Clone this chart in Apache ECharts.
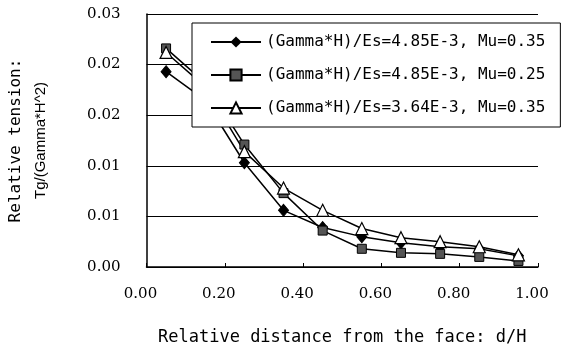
<!DOCTYPE html>
<html>
<head>
<meta charset="utf-8">
<script src="https://cdn.jsdelivr.net/npm/echarts@6/dist/echarts.min.js"></script>
<style>
html,body{margin:0;padding:0;background:#fff;}
#chart{width:568px;height:353px;}
</style>
</head>
<body>
<div id="chart"></div>
<script>
// ---- data ----
const xValues = [0.05, 0.15, 0.25, 0.35, 0.45, 0.55, 0.65, 0.75, 0.85, 0.95];
const seriesNames = [
  '(Gamma*H)/Es=4.85E-3, Mu=0.35',
  '(Gamma*H)/Es=4.85E-3, Mu=0.25',
  '(Gamma*H)/Es=3.64E-3, Mu=0.35'
];
const diamondValues  = [0.0193, 0.0165, 0.0103, 0.0056, 0.0039, 0.0030, 0.0024, 0.0020, 0.0018, 0.0011];
const squareValues   = [0.0216, 0.0182, 0.0121, 0.0073, 0.0036, 0.0018, 0.0014, 0.0013, 0.0010, 0.0006];
const triangleValues = [0.0212, 0.0178, 0.0114, 0.0078, 0.0056, 0.0038, 0.0029, 0.0025, 0.0020, 0.0012];
const xTickLabels = ['0.00', '0.20', '0.40', '0.60', '0.80', '1.00'];
const yTickLabels = ['0.00', '0.01', '0.01', '0.02', '0.02', '0.03'];
const xTitle = 'Relative distance from the face: d/H';
const yTitle1 = 'Relative tension:';
const yTitle2 = 'Tg/(Gamma*H^2)';

const pair = vals => xValues.map((x, i) => [x, vals[i]]);

const chart = echarts.init(document.getElementById('chart'), null, {renderer: 'canvas'});
const mono = '"DejaVu Sans Mono", monospace';
const serif = '"DejaVu Serif", serif';

chart.setOption({
  backgroundColor: '#fff',
  animation: false,
  grid: {left: 143, right: 30, top: 14, bottom: 86, containLabel: false},
  legend: {
    orient: 'vertical',
    left: 192, top: 23,
    padding: [11, 15, 11, 18],
    itemGap: 17,
    itemWidth: 50, itemHeight: 14,
    backgroundColor: '#fff',
    borderColor: '#000', borderWidth: 1,
    textStyle: {fontFamily: mono, fontSize: 16, color: '#000', lineHeight: 16},
    data: seriesNames
  },
  xAxis: {
    type: 'value', min: 0, max: 1, interval: 0.2,
    axisLine: {show: true, lineStyle: {color: '#000', width: 1.5}},
    axisTick: {show: true, inside: true, length: 4, lineStyle: {color: '#000', width: 1}},
    splitLine: {show: false},
    axisLabel: {
      margin: 20, color: '#000', fontFamily: serif, fontSize: 15,
      padding: [0, 12, 0, 0],
      formatter: v => xTickLabels[Math.round(v / 0.2)]
    },
    name: xTitle, nameLocation: 'middle', nameGap: 62,
    nameTextStyle: {fontFamily: mono, fontSize: 17, color: '#000'}
  },
  yAxis: {
    type: 'value', min: 0, max: 0.025, interval: 0.005,
    axisLine: {show: true, lineStyle: {color: '#000', width: 1.5}},
    axisTick: {show: false},
    splitLine: {show: true, lineStyle: {color: '#000', width: 1}},
    axisLabel: {
      margin: 26, color: '#000', fontFamily: serif, fontSize: 15,
      formatter: v => yTickLabels[Math.round(v / 0.005)]
    },
    name: '{a|' + yTitle1 + '}\n{b|' + yTitle2 + '}',
    nameLocation: 'middle', nameGap: 93, nameRotate: 90,
    nameTextStyle: {
      color: '#000',
      rich: {
        a: {fontFamily: mono, fontSize: 16, lineHeight: 25, color: '#000'},
        b: {fontFamily: '"Liberation Sans Narrow", "Liberation Sans", sans-serif', fontSize: 15, lineHeight: 25, color: '#000'}
      }
    }
  },
  series: [
    {
      name: seriesNames[0], type: 'line', data: pair(diamondValues),
      symbol: 'diamond', symbolSize: [10, 12],
      lineStyle: {color: '#000', width: 1.5},
      itemStyle: {color: '#000', borderColor: '#000'}
    },
    {
      name: seriesNames[1], type: 'line', data: pair(squareValues),
      symbol: 'rect', symbolSize: 9,
      lineStyle: {color: '#000', width: 1.5},
      itemStyle: {color: '#555', borderColor: '#000', borderWidth: 1}
    },
    {
      name: seriesNames[2], type: 'line', data: pair(triangleValues),
      symbol: 'triangle', symbolSize: 12,
      lineStyle: {color: '#000', width: 1.5},
      itemStyle: {color: '#fff', borderColor: '#000', borderWidth: 1.2}
    }
  ]
});
</script>
</body>
</html>
